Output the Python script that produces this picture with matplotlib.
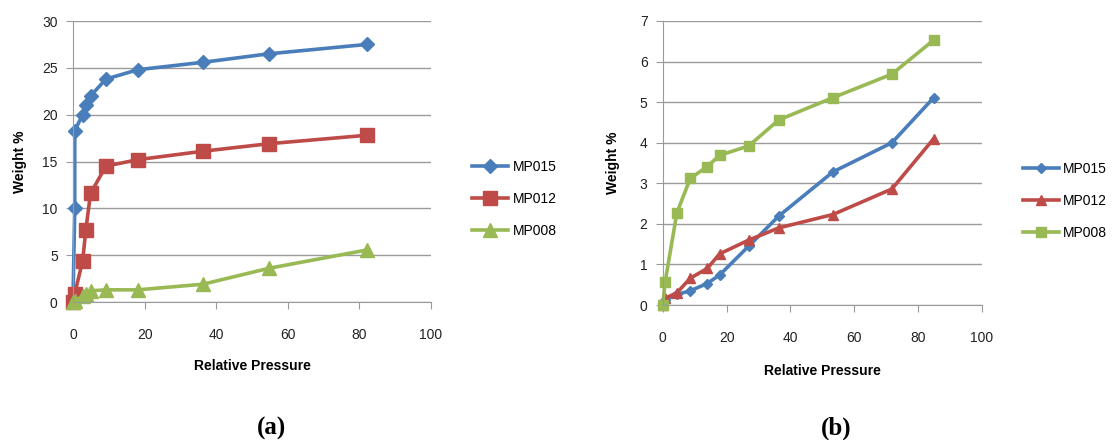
import matplotlib.pyplot as plt

# (a) sorption data
a_x = [0, 0.5, 0.5, 2.7, 3.6, 4.9, 9.2, 18.1, 36.4, 54.7, 82.0]
a_mp015 = [0, 10.0, 18.3, 20.0, 21.0, 22.0, 23.8, 24.8, 25.6, 26.5, 27.5]
a_x012 = [0, 0.5, 2.7, 3.6, 4.9, 9.2, 18.1, 36.3, 54.7, 82.0]
a_mp012 = [0, 0.9, 4.4, 7.7, 11.6, 14.5, 15.2, 16.1, 16.9, 17.8]
a_x008 = [0, 0.5, 2.7, 3.6, 4.9, 9.2, 18.1, 36.3, 54.7, 82.0]
a_mp008 = [0, 0.1, 0.6, 0.9, 1.2, 1.3, 1.3, 1.9, 3.6, 5.55]

# (b) sorption data
b_x = [0, 0.8, 4.4, 8.6, 13.9, 17.8, 26.9, 36.3, 53.3, 71.8, 84.9]
b_mp015 = [0, 0.12, 0.26, 0.35, 0.53, 0.74, 1.45, 2.19, 3.28, 4.0, 5.11]
b_mp012 = [0, 0.17, 0.30, 0.66, 0.90, 1.26, 1.60, 1.90, 2.23, 2.86, 4.10]
b_x008 = [0, 0.7, 4.4, 8.6, 13.9, 17.8, 26.9, 36.3, 53.3, 71.8, 84.9]
b_mp008 = [0, 0.56, 2.27, 3.12, 3.41, 3.69, 3.92, 4.56, 5.11, 5.69, 6.53]

blue = '#4A7EBB'
red = '#BE4B48'
green = '#98B954'
grid_col = '#9a9a9a'

plt.rcParams['font.family'] = ['Liberation Sans', 'DejaVu Sans']

fig = plt.figure(figsize=(11.14, 4.4), dpi=100)
ax1 = fig.add_axes([0.0655, 0.3136, 0.3214, 0.6386])
ax2 = fig.add_axes([0.595, 0.3068, 0.2864, 0.6455])


def style(ax, ymax, ylpad, xlpad):
    ax.set_xlim(0, 100)
    ax.set_ylim(0, ymax)
    ax.set_xticks(range(0, 101, 20))
    ax.set_yticks(range(0, ymax + 1, 5 if ymax > 10 else 1))
    ax.yaxis.grid(True, color=grid_col, linewidth=1)
    ax.set_axisbelow(True)
    for s in ['top', 'right']:
        ax.spines[s].set_visible(False)
    for s in ['left', 'bottom']:
        ax.spines[s].set_color(grid_col)
    ax.tick_params(axis='both', colors=grid_col, labelcolor='#222222',
                   labelsize=10, length=5, direction='out')
    ax.tick_params(axis='x', pad=14)
    ax.tick_params(axis='y', pad=6)
    ax.set_ylabel('Weight %', fontsize=10, fontweight='bold', labelpad=ylpad)
    ax.set_xlabel('Relative Pressure', fontsize=10, fontweight='bold', labelpad=xlpad)
    for sp in ax.spines.values():
        sp.set_clip_on(False)


lw = 2.6
ax1.plot(a_x, a_mp015, color=blue, lw=lw, marker='D', ms=7, label='MP015', clip_on=False)
ax1.plot(a_x012, a_mp012, color=red, lw=lw, marker='s', ms=10, label='MP012', clip_on=False)
ax1.plot(a_x008, a_mp008, color=green, lw=lw, marker='^', ms=10, label='MP008', clip_on=False)
style(ax1, 30, 11, 12)

ax2.plot(b_x, b_mp015, color=blue, lw=lw, marker='D', ms=5, label='MP015', clip_on=False)
ax2.plot(b_x, b_mp012, color=red, lw=lw, marker='^', ms=7, label='MP012', clip_on=False)
ax2.plot(b_x008, b_mp008, color=green, lw=lw, marker='s', ms=7, label='MP008', clip_on=False)
style(ax2, 7, 14, 13.5)

for ax, (lx, ly) in [(ax1, (0.424, 0.548)), (ax2, (0.918, 0.543))]:
    ax.legend(loc='center left', bbox_to_anchor=(lx, ly), bbox_transform=fig.transFigure,
              frameon=False, fontsize=10, handlelength=2.6, handletextpad=0.3,
              labelspacing=1.3, borderpad=0, borderaxespad=0)

fig.text(272 / 1114, 1 - 428 / 440, '(a)', fontsize=18, fontweight='bold',
         family=['Liberation Serif', 'DejaVu Serif'], ha='center', va='center')
fig.text(836 / 1114, 1 - 428 / 440, '(b)', fontsize=18, fontweight='bold',
         family=['Liberation Serif', 'DejaVu Serif'], ha='center', va='center')

fig.savefig('out.png', dpi=100)
